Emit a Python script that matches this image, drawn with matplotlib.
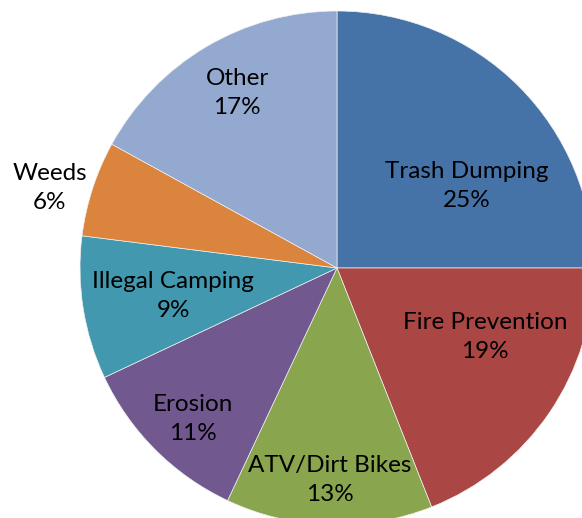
import matplotlib
matplotlib.use("Agg")
import matplotlib.pyplot as plt

categories = ["Trash Dumping", "Fire Prevention", "ATV/Dirt Bikes", "Erosion",
              "Illegal Camping", "Weeds", "Other"]
values = [25, 19, 13, 11, 9, 6, 17]
colors = ["#4572A7", "#AA4643", "#89A54E", "#71588F", "#4198AF", "#DB843D", "#93A9CF"]
# label anchor positions in units of pie radius (text placement only)
label_pos = [(0.506, 0.319), (0.576, -0.268), (-0.027, -0.825), (-0.560, -0.588),
             (-0.638, -0.109), (-1.117, 0.311), (-0.389, 0.681)]

W, H = 582, 518
cx, cy, r = 337, 268, 257

fig = plt.figure(figsize=(W / 100, H / 100), dpi=100)
ax = fig.add_axes([0, 0, 1, 1])
ax.pie(values, colors=colors, startangle=90, counterclock=False, radius=1,
       wedgeprops=dict(edgecolor="#f0f0f0", linewidth=0.5))
ax.set_aspect("auto")
ax.set_xlim(-cx / r, (W - cx) / r)
ax.set_ylim(-(H - cy) / r, cy / r)
ax.axis("off")

total = sum(values)
for cat, v, (x, y) in zip(categories, values, label_pos):
    ax.text(x, y, f"{cat}\n{round(100 * v / total)}%", ha="center", va="center",
            fontsize=17.5, family="Lato", color="black", linespacing=1.48)

fig.savefig("out.png", dpi=100)
